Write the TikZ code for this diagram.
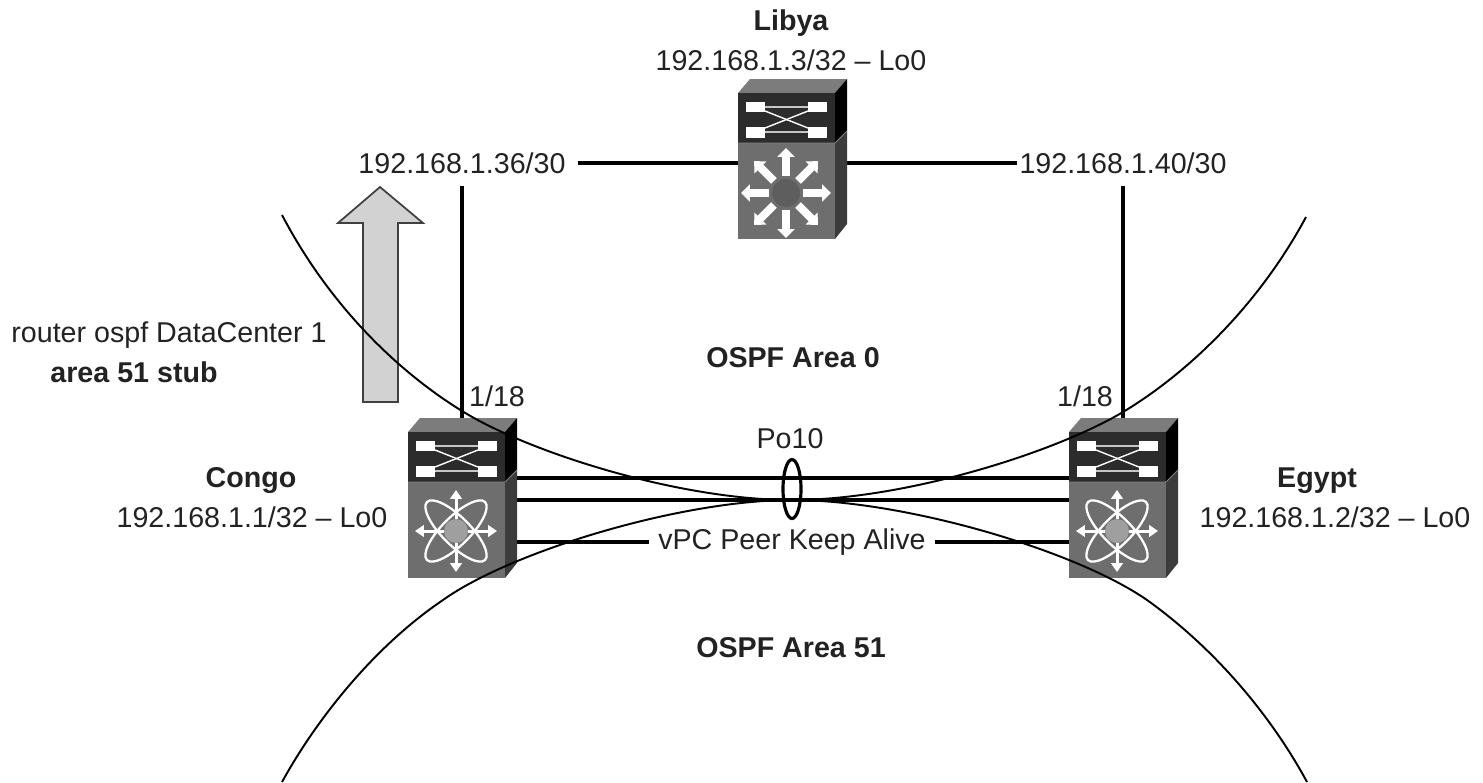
\documentclass[tikz,border=0pt]{standalone}
\usepackage{fontspec}
\setmainfont{Liberation Sans}
\usepackage{xcolor}
\definecolor{inktext}{HTML}{222222}
\definecolor{faceback}{HTML}{6E6E6E}
\definecolor{panel}{HTML}{2C2C2C}
\definecolor{sideback}{HTML}{3C3C3C}
\usepackage{tikz}
\usetikzlibrary{arrows.meta, shapes.geometric, positioning, calc}

\tikzset{
  textlabel/.style={font=\fontsize{16.3}{20}\selectfont, text=inktext, inner sep=1pt},
  boldlabel/.style={textlabel, font=\fontsize{16.3}{20}\selectfont\bfseries},
  devbox/.style={rectangle, anchor=north west, inner sep=0pt, minimum width=1.94cm, minimum height=2.92cm},
  link/.style={black, line width=1.8pt},
  boundary/.style={black, line width=1.1pt},
  spoke/.style={white, line width=4.6pt, -{Triangle[width=9.5pt,length=5pt]}},
  thinspoke/.style={white, line width=1.7pt, -{Triangle[width=6.5pt,length=5pt]}},
  pics/swbody/.style={code={
    % top, side and front faces
    \fill[faceback!90] (0,0) -- (12,-14) -- (109,-14) -- (97,0) -- cycle;
    \fill[black] (97,0) -- (109,-14) -- (109,38) -- (97,50) -- cycle;
    \fill[panel] (0,0) rectangle (97,50);
    \fill[sideback] (97,50) -- (109,38) -- (109,131) -- (97,146) -- cycle;
    \fill[faceback] (0,50) rectangle (97,146);
    \draw[gray, line width=0.5pt] (0,50) -- (97,50) -- (109,38);
    % crossbar panel
    \fill[white] (8,9) rectangle (27,19);
    \fill[white] (70,9) rectangle (89,19);
    \fill[white] (8,34) rectangle (27,45);
    \fill[white] (70,34) rectangle (89,45);
    \draw[gray!45, line width=1.1pt] (27,14) -- (70,14);
    \draw[gray!45, line width=1.1pt] (27,39) -- (70,39);
    \draw[white, line width=0.8pt] (27,18) -- (70,35);
    \draw[white, line width=0.8pt] (27,35) -- (70,18);
  }},
  pics/l3front/.style={code={
    \fill[faceback!85!black] (48,100) circle (14);
    \foreach \ang in {0,45,...,315}
      \draw[spoke] ($(48,100)+(\ang:17)$) -- ($(48,100)+(\ang:45)$);
  }},
  pics/nxfront/.style={code={
    \draw[white, line width=1.3pt, rotate around={45:(48,99)}] (48,99) ellipse (41 and 14);
    \draw[white, line width=1.3pt, rotate around={-45:(48,99)}] (48,99) ellipse (41 and 14);
    \foreach \ang in {0,90,180,270}
      \draw[thinspoke] ($(48,99)+(\ang:12)$) -- ($(48,99)+(\ang:41)$);
    \fill[gray!75] (48,99) circle (12);
  }},
}

\begin{document}
\begin{tikzpicture}[x=0.02cm, y=-0.02cm]
  \useasboundingbox (0,0) rectangle (1483,782);

  % stub arrow
  \draw[fill=gray!35, draw=black!75, line width=1pt] (363,402) -- (398,402) -- (398,223) -- (423,223)
    -- (380,187) -- (338,223) -- (363,223) -- cycle;

  % devices (faces are drawn after the links)
  \node[devbox] (libya) at (738,93) {};
  \node[devbox] (congo) at (408,432) {};
  \node[devbox] (egypt) at (1069,432) {};

  % labels
  \node[boldlabel] (libyaname) at (791,23) {Libya};
  \node[textlabel] (libyaip) at (791,60) {192.168.1.3/32 -- Lo0};
  \node[textlabel] (netleft) at (462,163) {192.168.1.36/30};
  \node[textlabel] (netright) at (1123,163) {192.168.1.40/30};
  \node[boldlabel] (areazero) at (793,358) {OSPF Area 0};
  \node[boldlabel] (areafifty) at (791,648) {OSPF Area 51};
  \node[textlabel] (portleft) at (497,396) {1/18};
  \node[textlabel] (portright) at (1085,396) {1/18};
  \node[textlabel] (poname) at (790,439) {Po10};
  \node[textlabel] (keepalive) at (792,542) {vPC Peer Keep Alive};
  \node[textlabel] (routerline) at (169,335) {router ospf DataCenter 1};
  \node[boldlabel] (stubline) at (134,372) {area 51 stub};
  \node[boldlabel] (congoname) at (251,481) {Congo};
  \node[textlabel] (congoip) at (252,517) {192.168.1.1/32 -- Lo0};
  \node[boldlabel] (egyptname) at (1317,481) {Egypt};
  \node[textlabel] (egyptip) at (1335,517) {192.168.1.2/32 -- Lo0};

  % links
  \draw[link] ([xshift=6pt]netleft.east) -- (netleft.east -| libya.west);
  \draw[link] (netright.west) -- (netright.west -| libya.east);
  \draw[link] ([yshift=-6pt]netleft.south) -- (netleft.south |- congo.north);
  \draw[link] ([yshift=-6pt]netright.south) -- (netright.south |- egypt.north);
  \draw[link] (congo.north east |- 0,478) -- (egypt.north west |- 0,478);
  \draw[link] (congo.north east |- 0,500) -- (egypt.north west |- 0,500);
  \draw[link] (keepalive.west -| congo.east) -- ([xshift=-4pt]keepalive.west);
  \draw[link] ([xshift=4pt]keepalive.east) -- (keepalive.east -| egypt.west);

  % device faces
  \pic at (libya.north west) {swbody};
  \pic at (libya.north west) {l3front};
  \pic at (congo.north west) {swbody};
  \pic at (congo.north west) {nxfront};
  \pic at (egypt.north west) {swbody};
  \pic at (egypt.north west) {nxfront};

  % port channel ring
  \node[draw=black, line width=1.8pt, ellipse, minimum width=0.36cm, minimum height=1.18cm, inner sep=0pt] (poring) at (792,489) {};

  % area boundaries
  \draw[boundary] (282,215) .. controls (332,310) and (402,374) .. (462,411)
    .. controls (530,453) and (680,500) .. (792,500)
    .. controls (904,500) and (1054,453) .. (1123,412)
    .. controls (1183,376) and (1256,310) .. (1306,217);
  \draw[boundary] (282,782) .. controls (315,722) and (372,648) .. (443,600)
    .. controls (510,552) and (680,500) .. (792,500)
    .. controls (904,500) and (1075,550) .. (1147,600)
    .. controls (1210,645) and (1268,710) .. (1307,782);
\end{tikzpicture}
\end{document}
